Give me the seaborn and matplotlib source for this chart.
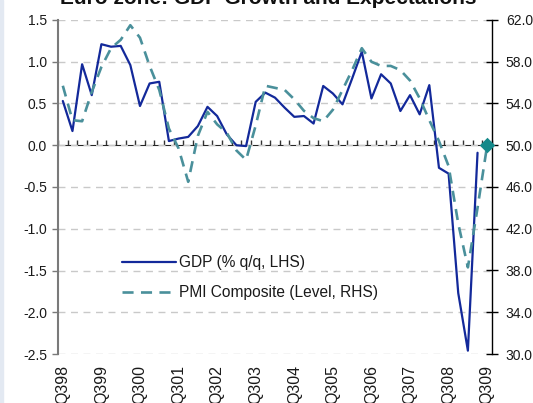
import numpy as np
import pandas as pd
import matplotlib
matplotlib.use("Agg")
import matplotlib.pyplot as plt
from matplotlib.patches import Rectangle
import seaborn as sns

# ---------------- data ----------------
quarters = ["Q398", "Q498", "Q199", "Q299", "Q399", "Q499", "Q100", "Q200", "Q300", "Q400",
            "Q101", "Q201", "Q301", "Q401", "Q102", "Q202", "Q302", "Q402", "Q103", "Q203",
            "Q303", "Q403", "Q104", "Q204", "Q304", "Q404", "Q105", "Q205", "Q305", "Q405",
            "Q106", "Q206", "Q306", "Q406", "Q107", "Q207", "Q307", "Q407", "Q108", "Q208",
            "Q308", "Q408", "Q109", "Q209", "Q309"]

gdp = [0.53, 0.17, 0.97, 0.60, 1.21, 1.18, 1.19, 0.96, 0.47, 0.74,
       0.76, 0.05, 0.08, 0.10, 0.23, 0.46, 0.35, 0.13, 0.00, -0.01,
       0.52, 0.63, 0.57, 0.45, 0.34, 0.35, 0.26, 0.71, 0.62, 0.49,
       0.80, 1.12, 0.56, 0.85, 0.74, 0.41, 0.60, 0.37, 0.72, -0.27,
       -0.34, -1.77, -2.46, -0.09]

pmi = [55.7, 52.4, 52.3, 55.1, 57.5, 59.3, 60.1, 61.5, 60.3, 57.6,
       55.3, 51.6, 49.7, 46.5, 50.9, 53.2, 52.0, 51.2, 49.5, 48.6,
       51.9, 55.7, 55.5, 55.3, 54.4, 53.3, 52.6, 52.3, 53.4, 55.3,
       57.2, 59.3, 58.0, 57.6, 57.6, 57.2, 56.2, 54.5, 52.4, 50.4,
       48.0, 42.5, 38.3, 44.0, 50.0]

tick_labels = ["Q398", "Q399", "Q300", "Q301", "Q302", "Q303",
               "Q304", "Q305", "Q306", "Q307", "Q308", "Q309"]

left_ticks = [1.5, 1.0, 0.5, 0.0, -0.5, -1.0, -1.5, -2.0, -2.5]
right_ticks = [62, 58, 54, 50, 46, 42, 38, 34, 30]

gdp_label = "GDP (% q/q, LHS)"
pmi_label = "PMI Composite (Level, RHS)"
title = "Euro zone: GDP Growth and Expectations"

# ---------------- frames ----------------
df_gdp = pd.DataFrame({"pos": np.arange(len(gdp)), "quarter": quarters[:len(gdp)], "value": gdp})
df_pmi = pd.DataFrame({"pos": np.arange(len(pmi)), "quarter": quarters[:len(pmi)], "value": pmi})
tick_pos = [quarters.index(t) for t in tick_labels]

# ---------------- style ----------------
sns.set_style("white")
plt.rcParams["font.family"] = ["Liberation Sans", "DejaVu Sans"]
plt.rcParams["axes.unicode_minus"] = False

W, H = 533, 403
fig = plt.figure(figsize=(W / 100, H / 100), dpi=100)
fig.patch.set_facecolor("white")
fig.patches.append(Rectangle((0, 0), 3 / W, 1, transform=fig.transFigure,
                             color="#e3e9f2", zorder=0))

ax = fig.add_axes([58 / W, 1 - 354 / H, (492 - 58) / W, (354 - 20) / H])
ax2 = ax.twinx()

GDP_C = "#13299a"
PMI_C = "#4a909b"
DIA_C = "#14898a"
TXT = "#1a1a1a"
TICK_FS = 10

sns.lineplot(data=df_gdp, x="pos", y="value", ax=ax, color=GDP_C, lw=1.6,
             label=gdp_label, legend=False)
sns.lineplot(data=df_pmi, x="pos", y="value", ax=ax2, color=PMI_C, lw=1.9,
             label=pmi_label, legend=False)
ax2.lines[0].set_linestyle((0, (4.2, 2.8)))
sns.scatterplot(x=[df_pmi["pos"].iloc[-1]], y=[df_pmi["value"].iloc[-1]], ax=ax2,
                marker="D", s=62, color=DIA_C, edgecolor=DIA_C, linewidth=0,
                zorder=5, clip_on=False, legend=False)

n = len(quarters)
ax.set_xlim(-0.5, n - 0.5)
ax.set_ylim(-2.5, 1.5)
ax2.set_ylim(30, 62)

# left axis
ax.set_yticks(left_ticks)
ax.set_yticklabels([f"{v:.1f}" for v in left_ticks])
ax.tick_params(axis="y", which="major", direction="out", length=4, width=1,
               color="#7a7a7a", pad=4, labelsize=TICK_FS, labelcolor=TXT, left=True)
ax.yaxis.grid(True, color="#c9c9c9", lw=1, ls=(0, (5, 4)))
ax.set_axisbelow(True)

# right axis
ax2.set_yticks(right_ticks)
ax2.set_yticklabels([f"{v:.1f}" for v in right_ticks])
ax2.tick_params(axis="y", direction="inout", length=8, width=1, color="black",
                pad=6, labelsize=TICK_FS, labelcolor=TXT, right=True)

# spines
for a in (ax, ax2):
    a.spines["top"].set_visible(False)
    a.spines["bottom"].set_visible(False)
ax.spines["left"].set_color("#7a7a7a")
ax.spines["left"].set_linewidth(1.5)
ax.spines["right"].set_visible(False)
ax2.spines["left"].set_visible(False)
ax2.spines["right"].set_color("black")
ax2.spines["right"].set_linewidth(1)

# category labels at bottom
ax.set_xticks(tick_pos)
ax.set_xticklabels(tick_labels, rotation=90, va="top", ha="center")
ax.tick_params(axis="x", length=0, pad=8, labelsize=11.5, labelcolor=TXT)
ax.set_xlabel("")
ax.set_ylabel("")
ax2.set_xlabel("")
ax2.set_ylabel("")

# zero line with category boundary ticks
zero_frac = (0 - (-2.5)) / (1.5 - (-2.5))
sec = ax.secondary_xaxis(zero_frac)
sec.set_xticks(np.arange(-0.5, n, 1.0))
sec.set_xticklabels([])
sec.tick_params(axis="x", direction="out", length=3.5, width=1, color="#333333")
sec.spines["bottom"].set_color("#333333")
sec.spines["bottom"].set_linewidth(1.3)

# legend
h1, l1 = ax.get_legend_handles_labels()
h2, l2 = ax2.get_legend_handles_labels()
h2 = [h for h in h2 if isinstance(h, matplotlib.lines.Line2D)]
leg = ax2.legend(h1 + h2[:1], [gdp_label, pmi_label], loc="center left",
                 bbox_to_anchor=(0.147, 0.228), frameon=False, fontsize=11.2,
                 handlelength=3.5, handletextpad=0.2, labelspacing=0.95,
                 borderpad=0, borderaxespad=0)
for t in leg.get_texts():
    t.set_color(TXT)

fig.text(268 / W, 1 - 4 / H, title, ha="center", va="baseline",
         fontsize=15, fontweight="bold", color="#111111")

fig.savefig("out.png", dpi=100)
